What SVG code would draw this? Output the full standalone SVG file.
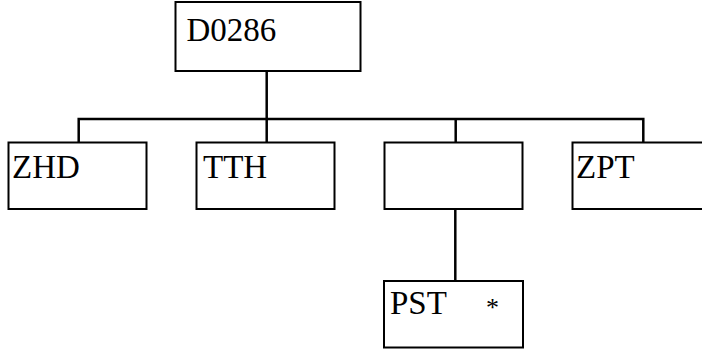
<svg xmlns="http://www.w3.org/2000/svg" width="702" height="349" viewBox="0 0 702 349">
<style>
.box{fill:#fff;stroke:#000;stroke-width:2}
.lbl{font-family:"Liberation Serif","Times New Roman",serif;font-size:33px;fill:#000}
.conn{fill:none;stroke:#000;stroke-width:2.5}
</style>
<rect width="702" height="349" fill="#fff"/>
<g id="connectors">
<path class="conn" d="M266.7 71V142"/>
<path class="conn" d="M78.7 142V119H643.3V142"/>
<path class="conn" d="M455.7 119V142"/>
<path class="conn" d="M455.3 209V281"/>
</g>
<g id="n-D0286"><rect class="box" x="175.5" y="2" width="185" height="69"/><text class="lbl" x="186.5" y="41">D0286</text></g>
<g id="n-ZHD"><rect class="box" x="8.5" y="142.5" width="138" height="66.5"/><text class="lbl" x="12" y="177.7">ZHD</text></g>
<g id="n-TTH"><rect class="box" x="196.5" y="142.5" width="138" height="66.5"/><text class="lbl" x="203" y="177.7">TTH</text></g>
<g id="n-blank"><rect class="box" x="384.5" y="142.5" width="138" height="66.5"/></g>
<g id="n-ZPT"><rect class="box" x="572.5" y="142.5" width="138" height="66.5"/><text class="lbl" x="576" y="177.7">ZPT</text></g>
<g id="n-PST"><rect class="box" x="384" y="281" width="139" height="66.5"/><text class="lbl" x="390" y="314">PST</text><text class="lbl" x="486" y="315.5" style="font-size:26px">*</text></g>
</svg>
